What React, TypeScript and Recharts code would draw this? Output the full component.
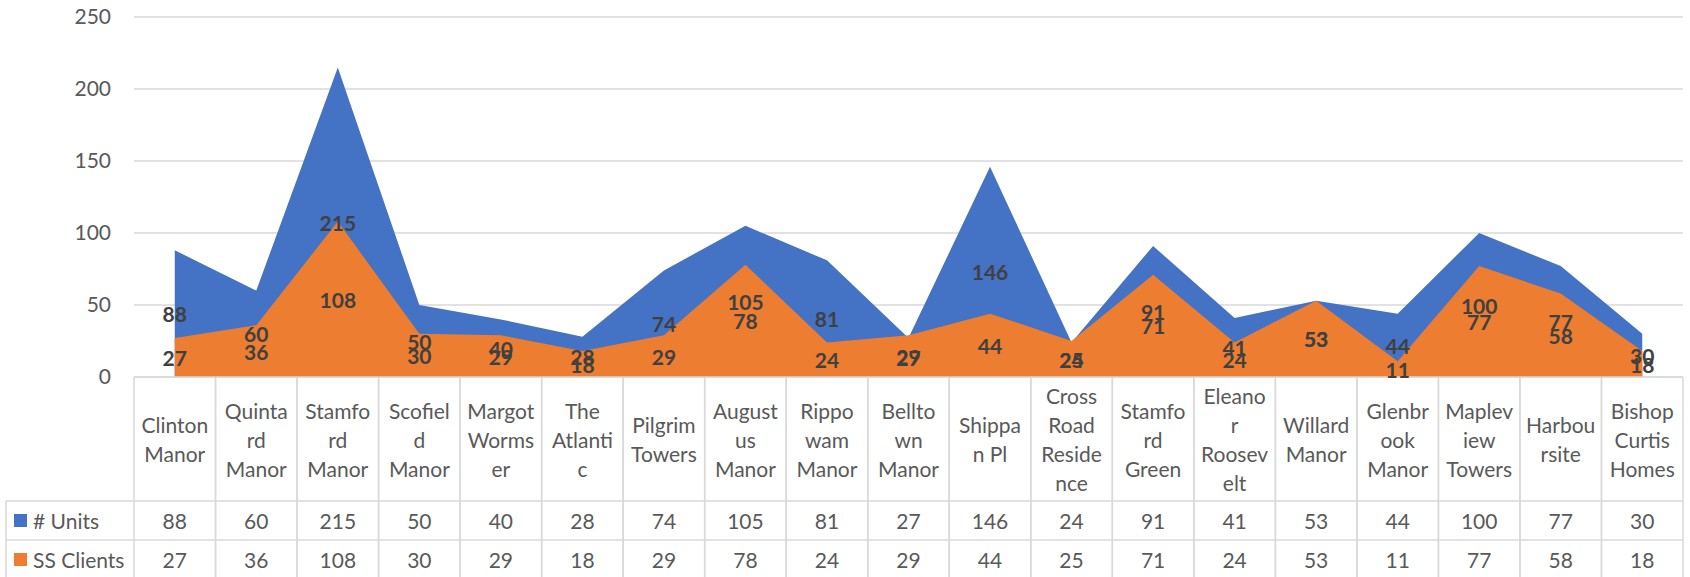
import { Area, AreaChart, CartesianGrid, Line, XAxis, YAxis } from 'recharts';

// values
const categories = [
    'Clinton Manor', 'Quintard Manor', 'Stamford Manor', 'Scofield Manor', 'Margot Wormser',
    'The Atlantic', 'Pilgrim Towers', 'Augustus Manor', 'Rippowam Manor', 'Belltown Manor',
    'Shippan Pl', 'Cross Road Residence', 'Stamford Green', 'Eleanor Roosevelt', 'Willard Manor',
    'Glenbrook Manor', 'Mapleview Towers', 'Harboursite', 'Bishop Curtis Homes',
];

// how Excel wrapped each header cell
const categoryLines = [
    ['Clinton', 'Manor'], ['Quinta', 'rd', 'Manor'], ['Stamfo', 'rd', 'Manor'], ['Scofiel', 'd', 'Manor'],
    ['Margot', 'Worms', 'er'], ['The', 'Atlanti', 'c'], ['Pilgrim', 'Towers'], ['August', 'us', 'Manor'],
    ['Rippo', 'wam', 'Manor'], ['Bellto', 'wn', 'Manor'], ['Shippa', 'n Pl'], ['Cross', 'Road', 'Reside', 'nce'],
    ['Stamfo', 'rd', 'Green'], ['Eleano', 'r', 'Roosev', 'elt'], ['Willard', 'Manor'], ['Glenbr', 'ook', 'Manor'],
    ['Maplev', 'iew', 'Towers'], ['Harbou', 'rsite'], ['Bishop', 'Curtis', 'Homes'],
];

const unitsValues = [88, 60, 215, 50, 40, 28, 74, 105, 81, 27, 146, 24, 91, 41, 53, 44, 100, 77, 30];
const clientsValues = [27, 36, 108, 30, 29, 18, 29, 78, 24, 29, 44, 25, 71, 24, 53, 11, 77, 58, 18];

const seriesNames = ['# Units', 'SS Clients'];
const seriesColors = ['#4472C4', '#ED7D31'];
const yTicks = [0, 50, 100, 150, 200, 250];

const data = categories.map((name, i) => ({
    name,
    units: unitsValues[i],
    clients: clientsValues[i],
}));

const W = 1690;
const H = 577;
const Y_AXIS_W = 134;
const RIGHT = 7;
const COL_HALF = (W - Y_AXIS_W - RIGHT) / categories.length / 2;

const FONT = 'Lato, "Open Sans", sans-serif';
const TEXT = '#595959';
const BORDER = '#d9d9d9';
const HEADER_H = 124;
const ROW_H = 39;
const LINE_H = 29;

function TableColumn(props: any) {
    const { x, y, payload } = props;
    const i = payload.index;
    const lines = categoryLines[i] || [payload.value];
    const left = x - COL_HALF;
    const right = x + COL_HALF;
    const bottom = y + HEADER_H + ROW_H * 2 + 10;
    const startY = y + HEADER_H / 2 - ((lines.length - 1) * LINE_H) / 2;
    const row1 = y + HEADER_H;
    const row2 = row1 + ROW_H;

    return (
        <g>
            <line x1={left} x2={right} y1={y} y2={y} stroke={BORDER} strokeWidth={1.5} />
            <line x1={left} x2={right} y1={row1} y2={row1} stroke={BORDER} strokeWidth={1.5} />
            <line x1={left} x2={right} y1={row2} y2={row2} stroke={BORDER} strokeWidth={1.5} />
            <line x1={left} x2={left} y1={y} y2={bottom} stroke={BORDER} strokeWidth={1.5} />
            <line x1={right} x2={right} y1={y} y2={bottom} stroke={BORDER} strokeWidth={1.5} />
            {lines.map((ln: string, k: number) => (
                <text key={k} x={x} y={startY + k * LINE_H} textAnchor="middle" dominantBaseline="central"
                    fontFamily={FONT} fontSize={21} fill={TEXT}>
                    {ln}
                </text>
            ))}
            <text x={x} y={row1 + ROW_H / 2} textAnchor="middle" dominantBaseline="central"
                fontFamily={FONT} fontSize={21} fill={TEXT}>
                {unitsValues[i]}
            </text>
            <text x={x} y={row2 + ROW_H / 2} textAnchor="middle" dominantBaseline="central"
                fontFamily={FONT} fontSize={21} fill={TEXT}>
                {clientsValues[i]}
            </text>
            {i === 0 && (
                <g>
                    {/* row headers with legend keys */}
                    <line x1={6} x2={left} y1={row1} y2={row1} stroke={BORDER} strokeWidth={1.5} />
                    <line x1={6} x2={left} y1={row2} y2={row2} stroke={BORDER} strokeWidth={1.5} />
                    <line x1={6} x2={6} y1={row1} y2={bottom} stroke={BORDER} strokeWidth={1.5} />
                    {seriesNames.map((s, k) => (
                        <g key={s}>
                            <rect x={14} y={row1 + k * ROW_H + ROW_H / 2 - 6.5} width={13} height={13} fill={seriesColors[k]} />
                            <text x={33} y={row1 + k * ROW_H + ROW_H / 2} dominantBaseline="central"
                                fontFamily={FONT} fontSize={21} fill={TEXT}>
                                {s}
                            </text>
                        </g>
                    ))}
                </g>
            )}
        </g>
    );
}

function makeLabel(values: number[]) {
    return (p: any) => {
        const v = p.index != null ? values[p.index] : p.value * 2;
        return (
            <text key={`l-${p.index}`} x={p.x} y={p.y} textAnchor="middle" dominantBaseline="central"
                fontFamily={FONT} fontSize={21} fontWeight={700} fill="#404040">
                {v}
            </text>
        );
    };
}

export default function App() {
    return (
        <div style={{ position: 'absolute', left: 0, top: 0, width: W, height: H, background: '#fff' }}>
            <AreaChart width={W} height={H} data={data} margin={{ top: 17, right: RIGHT, bottom: 0, left: 0 }}>
                <CartesianGrid vertical={false} stroke={BORDER} strokeWidth={1.5} />
                <XAxis
                    dataKey="name"
                    height={200}
                    padding={{ left: COL_HALF, right: COL_HALF }}
                    axisLine={false}
                    tickLine={false}
                    tickSize={0}
                    tickMargin={0}
                    interval={0}
                    tick={<TableColumn />}
                />
                <YAxis
                    width={Y_AXIS_W}
                    domain={[0, 250]}
                    ticks={yTicks}
                    axisLine={false}
                    tickLine={false}
                    tickSize={0}
                    tickMargin={23}
                    tick={{ fill: TEXT, fontSize: 21, fontFamily: FONT }}
                />
                <Area type="linear" dataKey="units" name={seriesNames[0]} stroke="none"
                    fill={seriesColors[0]} fillOpacity={1} isAnimationActive={false} />
                <Area type="linear" dataKey="clients" name={seriesNames[1]} stroke="none"
                    fill={seriesColors[1]} fillOpacity={1} isAnimationActive={false} />
                {/* invisible helpers: Excel centres area labels at half the value */}
                <Line dataKey={(d: any) => d.units / 2} stroke="none" dot={false} activeDot={false}
                    isAnimationActive={false} label={makeLabel(unitsValues)} />
                <Line dataKey={(d: any) => d.clients / 2} stroke="none" dot={false} activeDot={false}
                    isAnimationActive={false} label={makeLabel(clientsValues)} />
            </AreaChart>
        </div>
    );
}
